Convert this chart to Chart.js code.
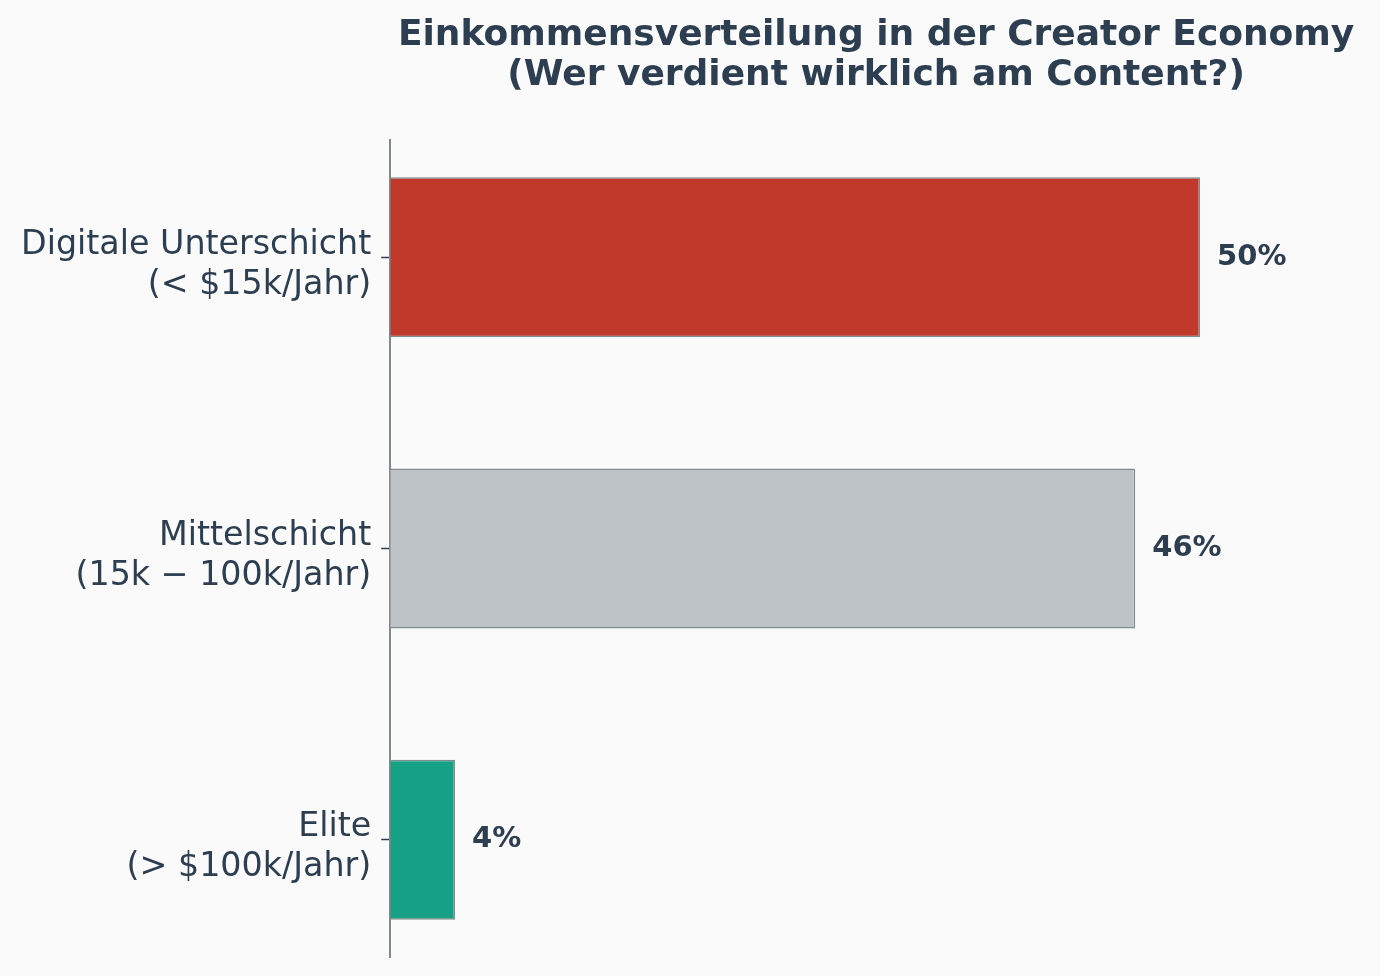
<!DOCTYPE html>
<html lang="de">
  <head>
    <meta charset="utf-8" />
    <title>Einkommensverteilung Creator Economy</title>
    <style>
      html, body { margin: 0; padding: 0; background: #fafafa; }
      #wrap { width: 1380px; height: 976px; }
    </style>
  </head>
  <body>
    <div id="wrap">
      <canvas id="myChart" width="1380" height="976"></canvas>
    </div>

    <script src="https://cdn.jsdelivr.net/npm/chart.js"></script>

    <script>
      // data
      const categories = [
        ["Digitale Unterschicht", "(< $15k/Jahr)"],
        ["Mittelschicht", "(15k − 100k/Jahr)"],
        ["Elite", "(> $100k/Jahr)"],
      ];
      const shares = [50, 46, 4];
      const barColors = ["#c0392b", "#bdc3c7", "#16a085"];
      const titleLines = [
        "Einkommensverteilung in der Creator Economy",
        "(Wer verdient wirklich am Content?)",
      ];

      const textColor = "#2c3e50";

      // title centred over the plot area, like matplotlib does
      const titlePlugin = {
        id: "axTitle",
        afterDraw(chart) {
          const { ctx, chartArea } = chart;
          const cx = (chartArea.left + chartArea.right) / 2;
          ctx.save();
          ctx.fillStyle = textColor;
          ctx.font = "bold 36px 'DejaVu Sans'";
          ctx.textAlign = "center";
          ctx.textBaseline = "middle";
          titleLines.forEach((line, i) => ctx.fillText(line, cx, 36 + i * 40));
          ctx.restore();
        },
      };

      // percentage labels to the right of each bar
      const valueLabels = {
        id: "valueLabels",
        afterDatasetsDraw(chart) {
          const { ctx } = chart;
          const meta = chart.getDatasetMeta(0);
          ctx.save();
          ctx.fillStyle = textColor;
          ctx.font = "bold 29px 'DejaVu Sans'";
          ctx.textAlign = "left";
          ctx.textBaseline = "middle";
          meta.data.forEach((bar, i) => {
            ctx.fillText(shares[i] + "%", bar.x + 17, bar.y);
          });
          ctx.restore();
        },
      };

      const ctx = document.getElementById("myChart");
      new Chart(ctx, {
        type: "bar",
        data: {
          datasets: [
            {
              data: shares.map((v, i) => ({ x: v, y: i })),
              backgroundColor: barColors,
              borderColor: "#7f8c8d",
              borderWidth: 1.5,
              barPercentage: 0.55,
              categoryPercentage: 1,
            },
          ],
        },
        plugins: [titlePlugin, valueLabels],
        options: {
          indexAxis: "y",
          responsive: false,
          animation: false,
          layout: { padding: { top: 140, right: 18, bottom: 19, left: 11 } },
          plugins: {
            legend: { display: false },
            title: { display: false },
            tooltip: { enabled: false },
          },
          scales: {
            x: {
              type: "linear",
              min: 0,
              max: 60,
              display: false,
            },
            y: {
              type: "linear",
              reverse: true,
              offset: false,
              min: -0.4025,
              max: 2.4025,
              afterBuildTicks(scale) {
                scale.ticks = categories.map((c, i) => ({ value: i }));
              },
              afterFit(scale) {
                // labels sit well inside the axis, no extra room needed
                scale.paddingTop = 0;
                scale.paddingBottom = 0;
              },
              grid: {
                offset: false,
                drawOnChartArea: false,
                drawTicks: true,
                tickLength: 9,
                tickColor: textColor,
                tickWidth: 1.5,
              },
              border: { display: true, color: "#7f8c8d", width: 2 },
              ticks: {
                padding: 10,
                labelOffset: 8,
                color: textColor,
                font: { family: "'DejaVu Sans'", size: 33.3, lineHeight: 1.2 },
                callback: (v) => categories[v],
              },
            },
          },
        },
      });
    </script>
  </body>
</html>
